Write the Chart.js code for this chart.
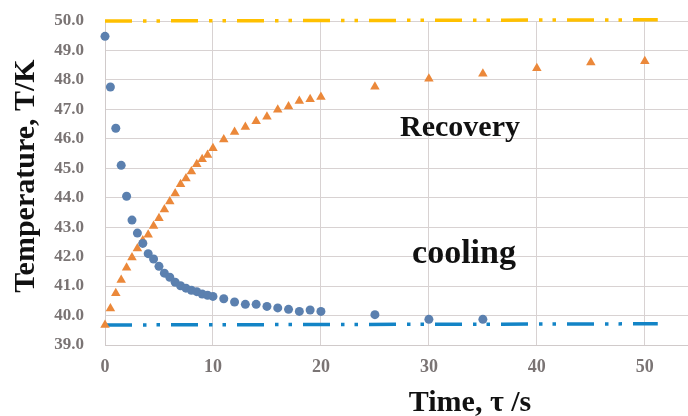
<!DOCTYPE html>
<html>
<head>
<meta charset="utf-8">
<script src="https://cdn.jsdelivr.net/npm/chart.js@4.4.1/dist/chart.umd.min.js"></script>
<style>
  html, body { margin: 0; padding: 0; background: #fff; overflow: hidden; }
  #box { width: 688px; height: 416px; }
</style>
</head>
<body>
<div id="box"><canvas id="grafico-temp"></canvas></div>
<script>
// cooling run (circles)
var coolTime = [0, 0.5, 1, 1.5, 2, 2.5, 3, 3.5, 4, 4.5, 5, 5.5, 6, 6.5, 7, 7.5, 8, 8.5, 9, 9.5, 10,
                11, 12, 13, 14, 15, 16, 17, 18, 19, 20, 25, 30, 35];
var coolTemp = [49.48, 47.76, 46.36, 45.10, 44.05, 43.24, 42.80, 42.45, 42.10, 41.92, 41.67, 41.44, 41.30, 41.13, 41.01, 40.93, 40.86, 40.81, 40.73, 40.69, 40.65,
                40.57, 40.46, 40.38, 40.38, 40.31, 40.26, 40.21, 40.14, 40.19, 40.14, 40.03, 39.87, 39.87];

// recovery run (triangles)
var recTime = [0, 0.5, 1, 1.5, 2, 2.5, 3, 3.5, 4, 4.5, 5, 5.5, 6, 6.5, 7, 7.5, 8, 8.5, 9, 9.5, 10,
               11, 12, 13, 14, 15, 16, 17, 18, 19, 20, 25, 30, 35, 40, 45, 50];
var recTemp = [39.68, 40.24, 40.76, 41.21, 41.62, 41.97, 42.28, 42.55, 42.74, 43.04, 43.30, 43.60, 43.87, 44.14, 44.46, 44.65, 44.89, 45.14, 45.31, 45.45, 45.68,
               45.98, 46.23, 46.40, 46.60, 46.75, 46.99, 47.10, 47.28, 47.34, 47.42, 47.77, 48.04, 48.21, 48.40, 48.59, 48.63];

// dash-dot reference levels
var levelTime = [0, 51.2];
var upperLevel = [50.00, 50.04];
var lowerLevel = [39.68, 39.72];

var xTicks = [0, 10, 20, 30, 40, 50];
var yTicks = [39, 40, 41, 42, 43, 44, 45, 46, 47, 48, 49, 50];

function pares(xs, ys) {
    return xs.map(function(x, i){ return {x: x, y: ys[i]}; });
}

var serif = "'Liberation Serif', 'Times New Roman', serif";
var dashDot = [27, 11, 3.5, 10, 3.5, 11];

// free text: axis titles and the two run labels
var textos = {
    id: 'textos',
    afterDraw: function(chart) {
        var ctx = chart.ctx;
        ctx.save();
        ctx.fillStyle = '#111';
        ctx.textAlign = 'center';
        ctx.textBaseline = 'alphabetic';
        ctx.font = 'bold 30px ' + serif;
        ctx.fillText('Recovery', 460, 136);
        ctx.font = 'bold 34px ' + serif;
        ctx.fillText('cooling', 464, 263);
        ctx.font = 'bold 30px ' + serif;
        ctx.fillText('Time, \u03c4 /s', 470, 411);
        ctx.translate(34, 176);
        ctx.rotate(-Math.PI / 2);
        ctx.fillText('Temperature, T/K', 0, 0);
        ctx.restore();
    }
};

var ctx = document.getElementById('grafico-temp').getContext('2d');
var config = {
    type: 'scatter',
    data: {
        datasets: [{
            label: 'cooling',
            data: pares(coolTime, coolTemp),
            pointStyle: 'circle',
            pointRadius: 4.5,
            backgroundColor: '#5b80af',
            borderWidth: 0,
            clip: false
        }, {
            label: 'Recovery',
            data: pares(recTime, recTemp),
            pointStyle: 'triangle',
            pointRadius: 5.5,
            backgroundColor: '#eb883a',
            borderWidth: 0,
            clip: false
        }, {
            data: pares(levelTime, upperLevel),
            showLine: true,
            pointRadius: 0,
            borderColor: '#ffc000',
            borderWidth: 3.5,
            borderDash: dashDot,
            clip: false
        }, {
            data: pares(levelTime, lowerLevel),
            showLine: true,
            pointRadius: 0,
            borderColor: '#1384c6',
            borderWidth: 3.5,
            borderDash: dashDot,
            clip: false
        }]
    },
    options: {
        responsive: true,
        maintainAspectRatio: false,
        animation: false,
        layout: { autoPadding: false, padding: { top: 21, right: 0, left: 0, bottom: 0 } },
        plugins: {
            legend: false,
            tooltip: { enabled: false }
        },
        scales: {
            x: {
                type: 'linear',
                min: 0,
                max: 54,
                afterBuildTicks: function(scale) {
                    scale.ticks = xTicks.map(function(v){ return {value: v}; });
                },
                afterFit: function(scale) {
                    scale.height = 71;
                    scale.paddingLeft = 0;
                    scale.paddingRight = 0;
                },
                grid: { color: '#d8d2d2', lineWidth: 1, drawTicks: false },
                border: { color: '#d0caca', width: 1 },
                ticks: {
                    padding: 12,
                    color: '#7a7474',
                    font: { family: serif, size: 18, weight: 'bold' }
                }
            },
            y: {
                type: 'linear',
                min: 39,
                max: 50,
                afterBuildTicks: function(scale) {
                    scale.ticks = yTicks.map(function(v){ return {value: v}; });
                },
                afterFit: function(scale) {
                    scale.width = 105;
                    scale.paddingTop = 0;
                    scale.paddingBottom = 0;
                },
                grid: { color: '#d8d2d2', lineWidth: 1, drawTicks: false },
                border: { color: '#d0caca', width: 1 },
                ticks: {
                    padding: 21,
                    color: '#7a7474',
                    font: { family: serif, size: 17, weight: 'bold' },
                    callback: function(v) { return Number(v).toFixed(1); }
                }
            }
        }
    },
    plugins: [textos]
};
var grafico_temp = new Chart(ctx, config);
</script>
</body>
</html>
